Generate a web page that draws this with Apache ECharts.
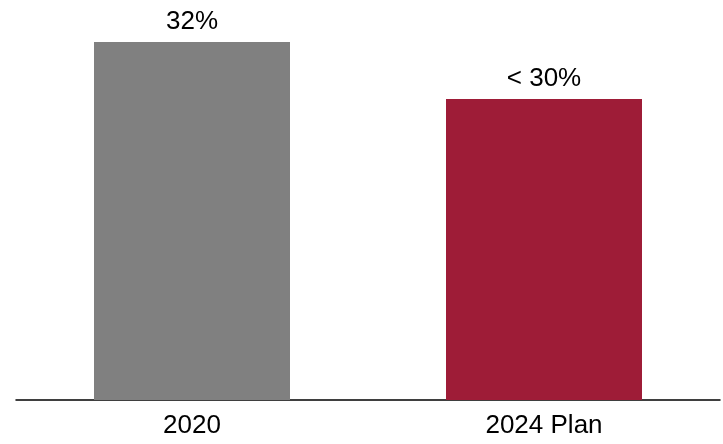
<!DOCTYPE html>
<html><head><meta charset="utf-8">
<script src="https://cdn.jsdelivr.net/npm/echarts@6/dist/echarts.min.js"></script>
<style>html,body{margin:0;padding:0;background:#fff}#c{width:723px;height:444px}</style>
</head><body><div id="c"></div>
<script>
const categories = ['2020', '2024 Plan'];
const values = [32, 26.9];
const valueLabels = ['32%', '< 30%'];
const colors = ['#808080', '#9E1C37'];

const chart = echarts.init(document.getElementById('c'), null, {renderer: 'canvas'});
chart.setOption({
  animation: false,
  grid: {left: 16, right: 3, top: 42, bottom: 44, containLabel: false},
  xAxis: {
    type: 'category', data: categories,
    axisLine: {show: true, lineStyle: {color: '#000', width: 1.5}},
    axisTick: {show: false},
    axisLabel: {color: '#000', fontSize: 26, fontFamily: 'Liberation Sans, Arial, sans-serif', margin: 13}
  },
  yAxis: {type: 'value', min: 0, max: 32, show: false, splitLine: {show: false}},
  series: [{
    type: 'bar', barWidth: 196,
    data: values.map((v, i) => ({value: v, itemStyle: {color: colors[i]}})),
    label: {
      show: true, position: 'top', distance: 7,
      color: '#000', fontSize: 26, fontFamily: 'Liberation Sans, Arial, sans-serif',
      formatter: p => valueLabels[p.dataIndex]
    }
  }]
});
</script></body></html>
